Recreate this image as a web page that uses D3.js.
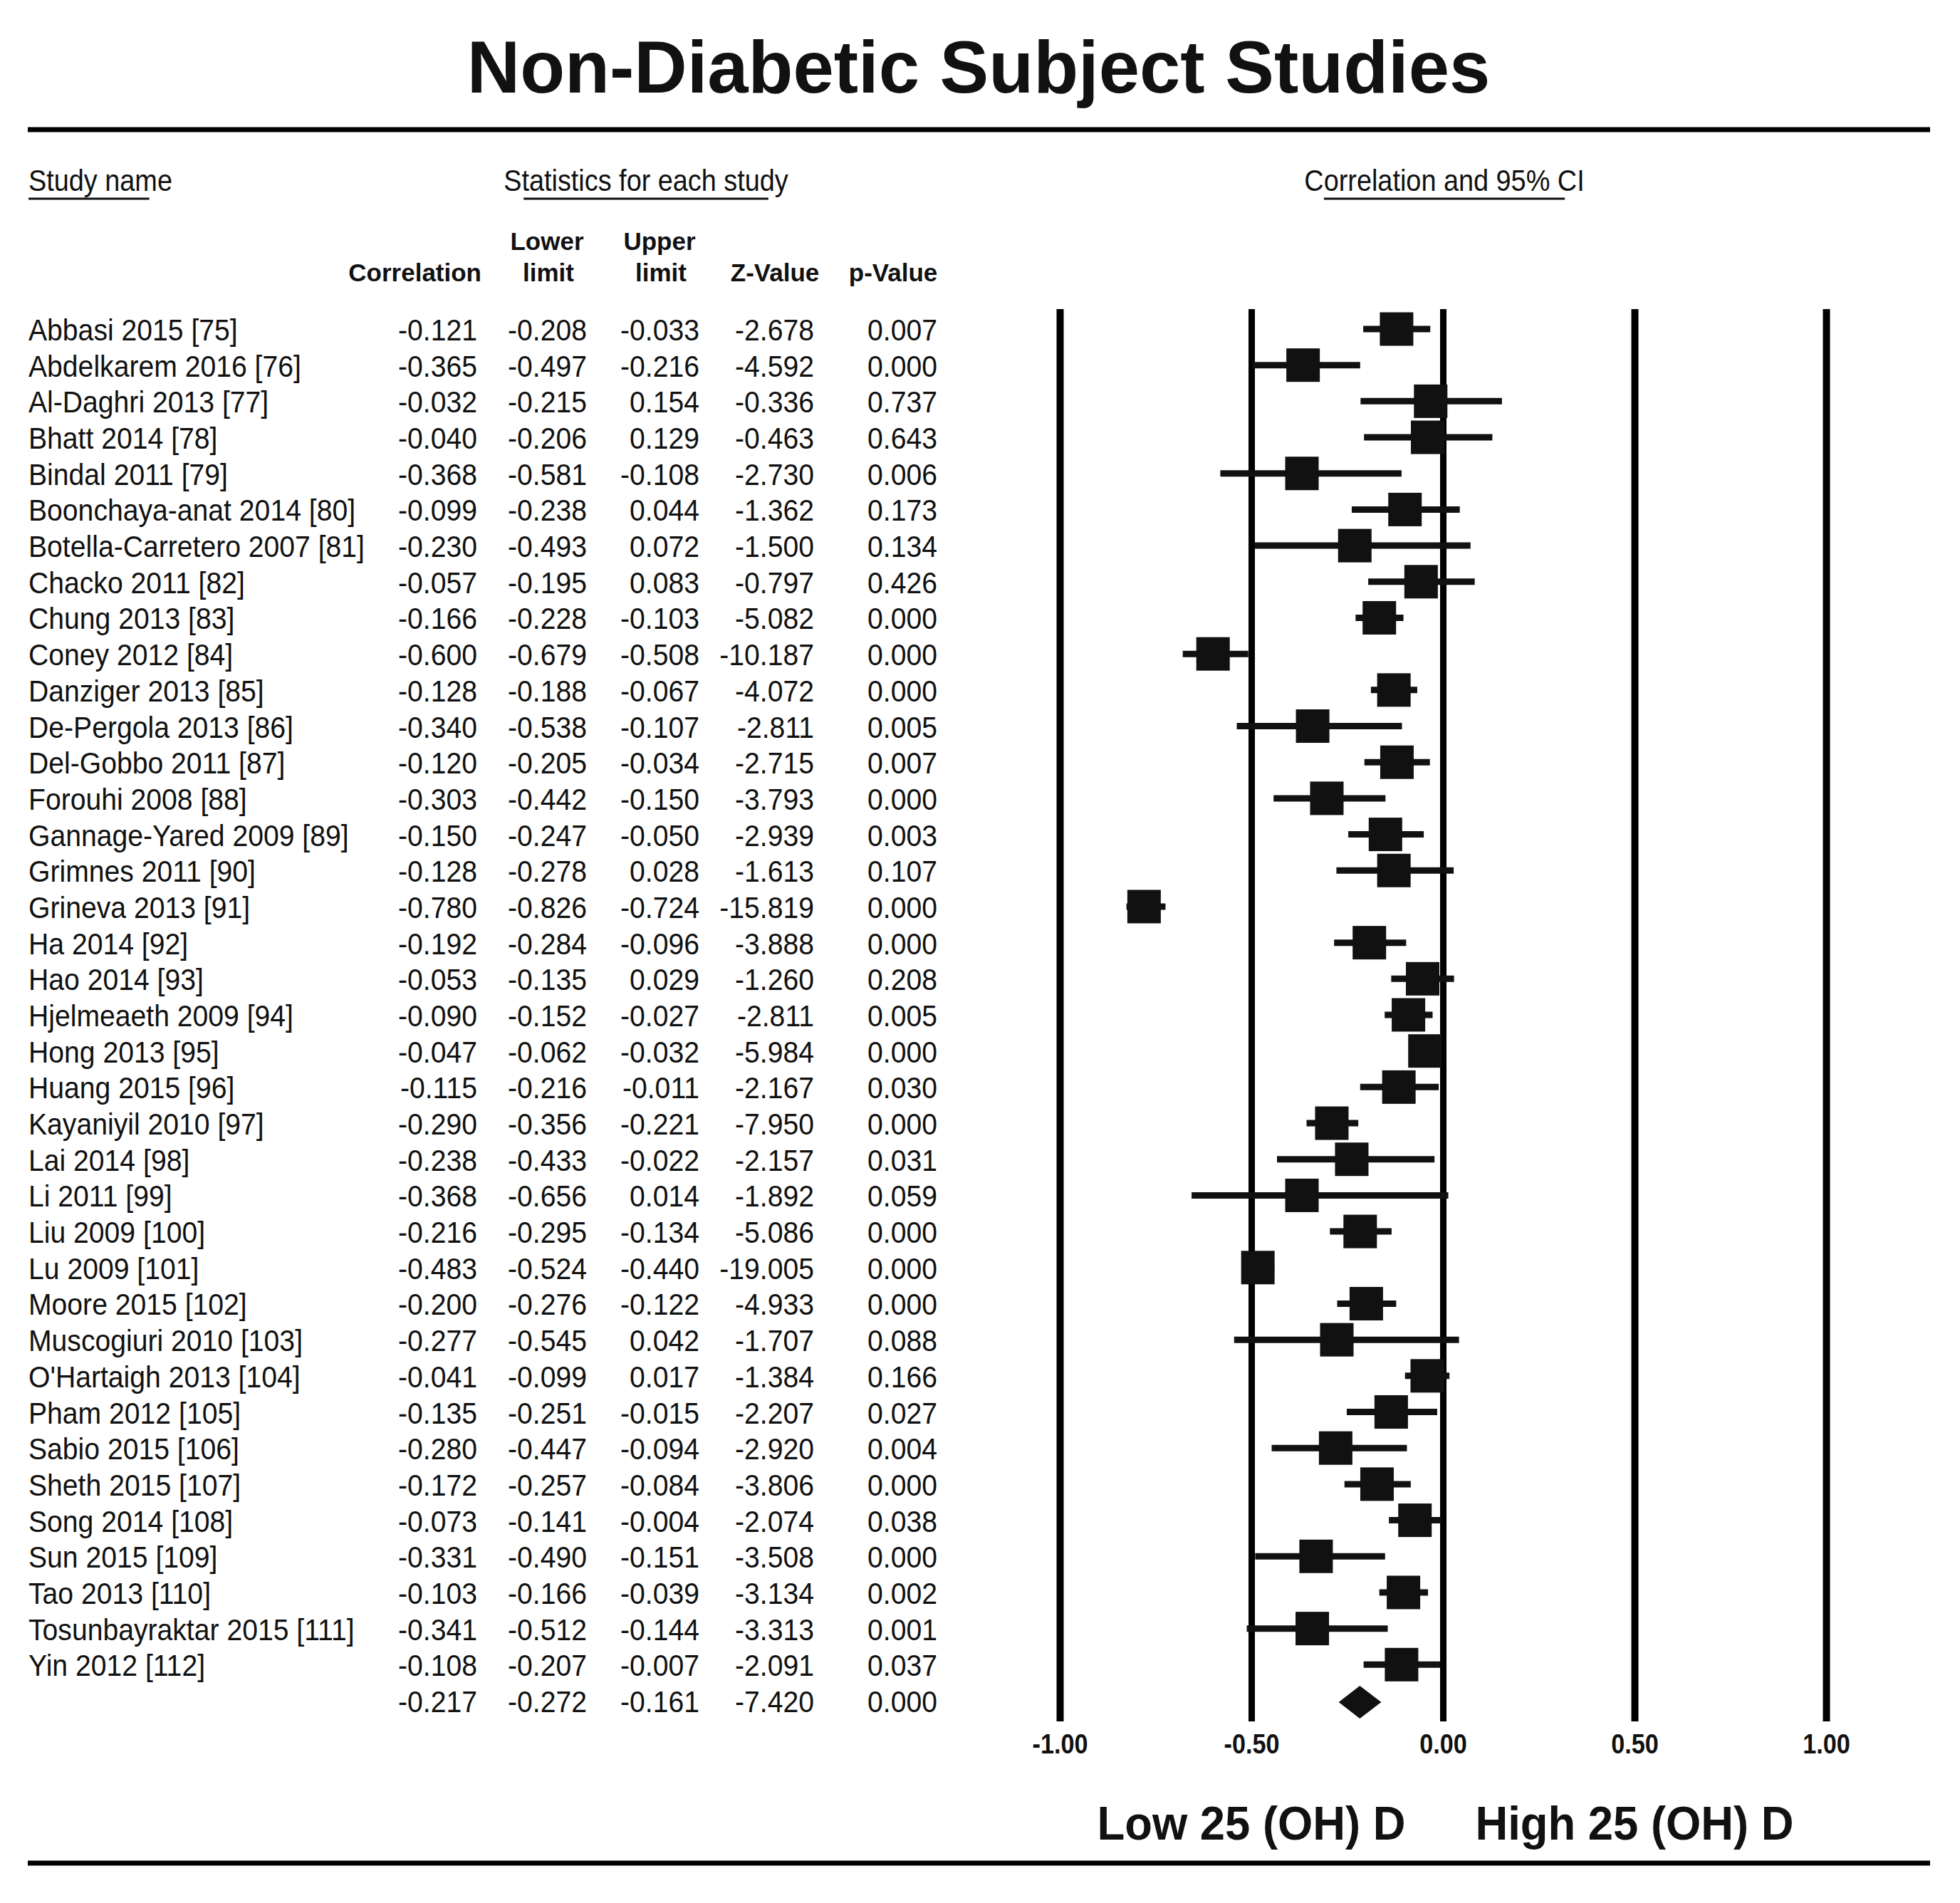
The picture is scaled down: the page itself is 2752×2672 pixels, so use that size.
<!DOCTYPE html>
<html>
<head>
<meta charset="utf-8">
<script src="https://cdn.jsdelivr.net/npm/d3@7/dist/d3.min.js"></script>
<style>
  body{margin:0;background:#fff;}
  text{font-family:"Liberation Sans",Arial,sans-serif;fill:#111;}
</style>
</head>
<body>
<div id="chart"></div>
<script>
// study rows, top to bottom
const studies = [
  'Abbasi 2015 [75]','Abdelkarem 2016 [76]','Al-Daghri 2013 [77]','Bhatt 2014 [78]',
  'Bindal 2011 [79]','Boonchaya-anat 2014 [80]','Botella-Carretero 2007 [81]','Chacko 2011 [82]',
  'Chung 2013 [83]','Coney 2012 [84]','Danziger 2013 [85]','De-Pergola 2013 [86]',
  'Del-Gobbo 2011 [87]','Forouhi 2008 [88]','Gannage-Yared 2009 [89]','Grimnes 2011 [90]',
  'Grineva 2013 [91]','Ha 2014 [92]','Hao 2014 [93]','Hjelmeaeth 2009 [94]',
  'Hong 2013 [95]','Huang 2015 [96]','Kayaniyil 2010 [97]','Lai 2014 [98]',
  'Li 2011 [99]','Liu 2009 [100]','Lu 2009 [101]','Moore 2015 [102]',
  'Muscogiuri 2010 [103]',"O'Hartaigh 2013 [104]",'Pham 2012 [105]','Sabio 2015 [106]',
  'Sheth 2015 [107]','Song 2014 [108]','Sun 2015 [109]','Tao 2013 [110]',
  'Tosunbayraktar 2015 [111]','Yin 2012 [112]'
];
const correlation = [-0.121,-0.365,-0.032,-0.040,-0.368,-0.099,-0.230,-0.057,-0.166,-0.600,
  -0.128,-0.340,-0.120,-0.303,-0.150,-0.128,-0.780,-0.192,-0.053,-0.090,-0.047,-0.115,-0.290,
  -0.238,-0.368,-0.216,-0.483,-0.200,-0.277,-0.041,-0.135,-0.280,-0.172,-0.073,-0.331,-0.103,
  -0.341,-0.108];
const lowerLimit = [-0.208,-0.497,-0.215,-0.206,-0.581,-0.238,-0.493,-0.195,-0.228,-0.679,
  -0.188,-0.538,-0.205,-0.442,-0.247,-0.278,-0.826,-0.284,-0.135,-0.152,-0.062,-0.216,-0.356,
  -0.433,-0.656,-0.295,-0.524,-0.276,-0.545,-0.099,-0.251,-0.447,-0.257,-0.141,-0.490,-0.166,
  -0.512,-0.207];
const upperLimit = [-0.033,-0.216,0.154,0.129,-0.108,0.044,0.072,0.083,-0.103,-0.508,
  -0.067,-0.107,-0.034,-0.150,-0.050,0.028,-0.724,-0.096,0.029,-0.027,-0.032,-0.011,-0.221,
  -0.022,0.014,-0.134,-0.440,-0.122,0.042,0.017,-0.015,-0.094,-0.084,-0.004,-0.151,-0.039,
  -0.144,-0.007];
const zValue = [-2.678,-4.592,-0.336,-0.463,-2.730,-1.362,-1.500,-0.797,-5.082,-10.187,
  -4.072,-2.811,-2.715,-3.793,-2.939,-1.613,-15.819,-3.888,-1.260,-2.811,-5.984,-2.167,-7.950,
  -2.157,-1.892,-5.086,-19.005,-4.933,-1.707,-1.384,-2.207,-2.920,-3.806,-2.074,-3.508,-3.134,
  -3.313,-2.091];
const pValue = [0.007,0.000,0.737,0.643,0.006,0.173,0.134,0.426,0.000,0.000,
  0.000,0.005,0.007,0.000,0.003,0.107,0.000,0.000,0.208,0.005,0.000,0.030,0.000,
  0.031,0.059,0.000,0.000,0.000,0.088,0.166,0.027,0.004,0.000,0.038,0.000,0.002,
  0.001,0.037];
// pooled estimate: correlation, lower, upper, z, p
const summaryStats = [-0.217,-0.272,-0.161,-7.420,0.000];
const xTicks = [-1,-0.5,0,0.5,1];

const W = 2752, H = 2672;
const SX = 0.91; // source font is a bit narrow

const svg = d3.select('#chart').append('svg')
  .attr('width',W).attr('height',H);

function label(x,y,s,o){
  o = o||{};
  const sx = o.sx||SX;
  return svg.append('text')
    .attr('transform','translate('+x+','+y+') scale('+sx+',1)')
    .attr('text-anchor',o.anchor||'start')
    .attr('font-size',o.size||43)
    .attr('font-weight',o.bold?'bold':'normal')
    .text(s);
}

// title + rules
label(W/2-2,130,'Non-Diabetic Subject Studies',{anchor:'middle',size:103,bold:true,sx:1});
svg.append('line').attr('x1',39).attr('x2',2710).attr('y1',182).attr('y2',182)
  .attr('stroke','#000').attr('stroke-width',7);
svg.append('line').attr('x1',39).attr('x2',2710).attr('y1',2616).attr('y2',2616)
  .attr('stroke','#000').attr('stroke-width',7);

// scales
const x = d3.scaleLinear().domain([-1,1]).range([1488,2564]);
const y = d3.scalePoint().domain(d3.range(studies.length+1)).range([462,2388]);

// group headers with the short CMA underline
const HX = 0.88;
function underlined(cx,s,anchor){
  const t = label(cx,268,s,{anchor:anchor,sx:HX});
  const w = t.node().getComputedTextLength()*HX;
  let x0 = anchor==='middle' ? cx-w/2+0.07*w : cx;
  let x1 = anchor==='middle' ? cx+w/2-0.07*w : cx+0.84*w;
  svg.append('line').attr('x1',x0).attr('x2',x1).attr('y1',279).attr('y2',279)
    .attr('stroke','#111').attr('stroke-width',3);
}
underlined(40,'Study name','start');
underlined(907,'Statistics for each study','middle');
underlined(x(0)+2,'Correlation and 95% CI','middle');

// column headers
const colRight = [670,824,982,1143,1316];
const hd = {size:35,bold:true,sx:1};
label(676,395,'Correlation',Object.assign({anchor:'end'},hd));
label(768,351,'Lower',Object.assign({anchor:'middle'},hd));
label(770,395,'limit',Object.assign({anchor:'middle'},hd));
label(926,351,'Upper',Object.assign({anchor:'middle'},hd));
label(928,395,'limit',Object.assign({anchor:'middle'},hd));
label(1088,395,'Z-Value',Object.assign({anchor:'middle'},hd));
label(1254,395,'p-Value',Object.assign({anchor:'middle'},hd));

// table body
const cols = [correlation,lowerLimit,upperLimit,zValue,pValue];
studies.forEach(function(name,i){
  label(40,y(i)+16,name);
  cols.forEach(function(c,j){
    label(colRight[j],y(i)+16,c[i].toFixed(3),{anchor:'end'});
  });
});
summaryStats.forEach(function(v,j){
  label(colRight[j],y(studies.length)+16,v.toFixed(3),{anchor:'end'});
});

// vertical reference lines via axis
const yTop = 434, yBot = 2417;
const axis = svg.append('g').attr('transform','translate(0,'+yBot+')')
  .call(d3.axisBottom(x).tickValues(xTicks).tickSize(-(yBot-yTop))
    .tickFormat(function(d){ return d.toFixed(2); }));
axis.select('.domain').remove();
axis.selectAll('.tick line').attr('stroke','#000')
  .attr('stroke-width',function(d){ return (d===0||d===-0.5)?9:10; });
axis.selectAll('.tick text')
  .attr('y',45).attr('dy',0).attr('x',0)
  .attr('font-size',38).attr('font-weight','bold')
  .attr('font-family','"Liberation Sans",Arial,sans-serif')
  .attr('fill','#111')
  .attr('transform','scale(0.9,1)');

// confidence intervals
svg.append('g').selectAll('line').data(studies).join('line')
  .attr('x1',function(d,i){ return x(lowerLimit[i]); })
  .attr('x2',function(d,i){ return x(upperLimit[i]); })
  .attr('y1',function(d,i){ return y(i); })
  .attr('y2',function(d,i){ return y(i); })
  .attr('stroke','#111').attr('stroke-width',9);

// point estimates
const SQ = 47;
svg.append('g').selectAll('rect').data(studies).join('rect')
  .attr('x',function(d,i){ return x(correlation[i])-SQ/2; })
  .attr('y',function(d,i){ return y(i)-SQ/2; })
  .attr('width',SQ).attr('height',SQ)
  .attr('fill','#111');

// pooled diamond
const cy = y(studies.length)+2;
svg.append('path')
  .attr('d','M'+x(summaryStats[1])+','+cy+'L'+x(summaryStats[0])+','+(cy-23)+
    'L'+x(summaryStats[2])+','+cy+'L'+x(summaryStats[0])+','+(cy+23)+'Z')
  .attr('fill','#111');

// direction labels
label(x(-0.5),2583,'Low 25 (OH) D',{anchor:'middle',size:66,bold:true,sx:0.96});
label(x(0.5),2583,'High 25 (OH) D',{anchor:'middle',size:66,bold:true,sx:0.96});
</script>
</body>
</html>
